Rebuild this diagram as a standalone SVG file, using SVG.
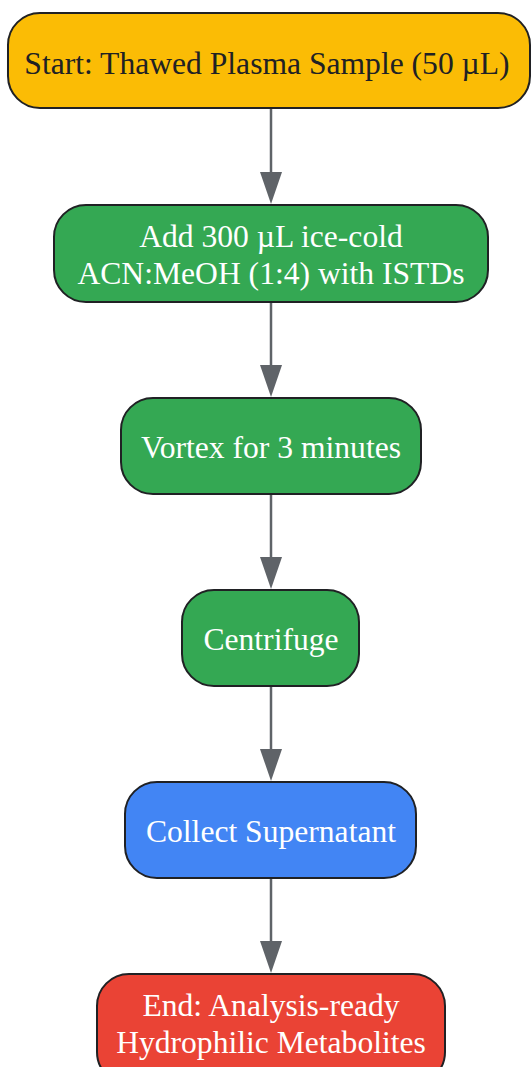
<svg xmlns="http://www.w3.org/2000/svg" width="531" height="1067" viewBox="0 0 531 1067">
<style>
.n{stroke:#202124;stroke-width:2}
.t{font-family:"Liberation Serif","Times New Roman",serif;font-size:31.6px;text-anchor:middle;dominant-baseline:central}
.w{fill:#ffffff}
.d{fill:#202124}
.e{stroke:#5f6368;stroke-width:2.5;fill:none}
.h{fill:#5f6368}
</style>
<rect width="531" height="1067" fill="#ffffff"/>
<g id="connectors">
<path class="e" d="M271,108 L271,174"/>
<path class="e" d="M271,302 L271,367"/>
<path class="e" d="M271,494 L271,559"/>
<path class="e" d="M271,686 L271,751"/>
<path class="e" d="M271,878 L271,943"/>
<path class="h" d="M260,172 L282,172 L271,204 Z"/>
<path class="h" d="M260,365 L282,365 L271,397 Z"/>
<path class="h" d="M260,557 L282,557 L271,589 Z"/>
<path class="h" d="M260,749 L282,749 L271,781 Z"/>
<path class="h" d="M260,941 L282,941 L271,973 Z"/>
</g>
<g id="n1">
<rect class="n" x="8" y="13" width="522" height="95" rx="32" fill="#fbbc05"/>
<text class="t d" x="267" y="63">Start: Thawed Plasma Sample (50 µL)</text>
</g>
<g id="n2">
<rect class="n" x="54" y="205" width="434" height="97" rx="32" fill="#34a853"/>
<text class="t w" x="271" y="236">Add 300 µL ice-cold</text>
<text class="t w" x="271" y="273">ACN:MeOH (1:4) with ISTDs</text>
</g>
<g id="n3">
<rect class="n" x="121" y="398" width="300" height="96" rx="32" fill="#34a853"/>
<text class="t w" x="271" y="447">Vortex for 3 minutes</text>
</g>
<g id="n4">
<rect class="n" x="182" y="590" width="177" height="96" rx="32" fill="#34a853"/>
<text class="t w" x="271" y="639">Centrifuge</text>
</g>
<g id="n5">
<rect class="n" x="125" y="782" width="291" height="96" rx="32" fill="#4285f4"/>
<text class="t w" x="271" y="831">Collect Supernatant</text>
</g>
<g id="n6">
<rect class="n" x="97" y="974" width="348" height="110" rx="32" fill="#ea4335"/>
<text class="t w" x="271" y="1005">End: Analysis-ready</text>
<text class="t w" x="271" y="1042">Hydrophilic Metabolites</text>
</g>
</svg>
